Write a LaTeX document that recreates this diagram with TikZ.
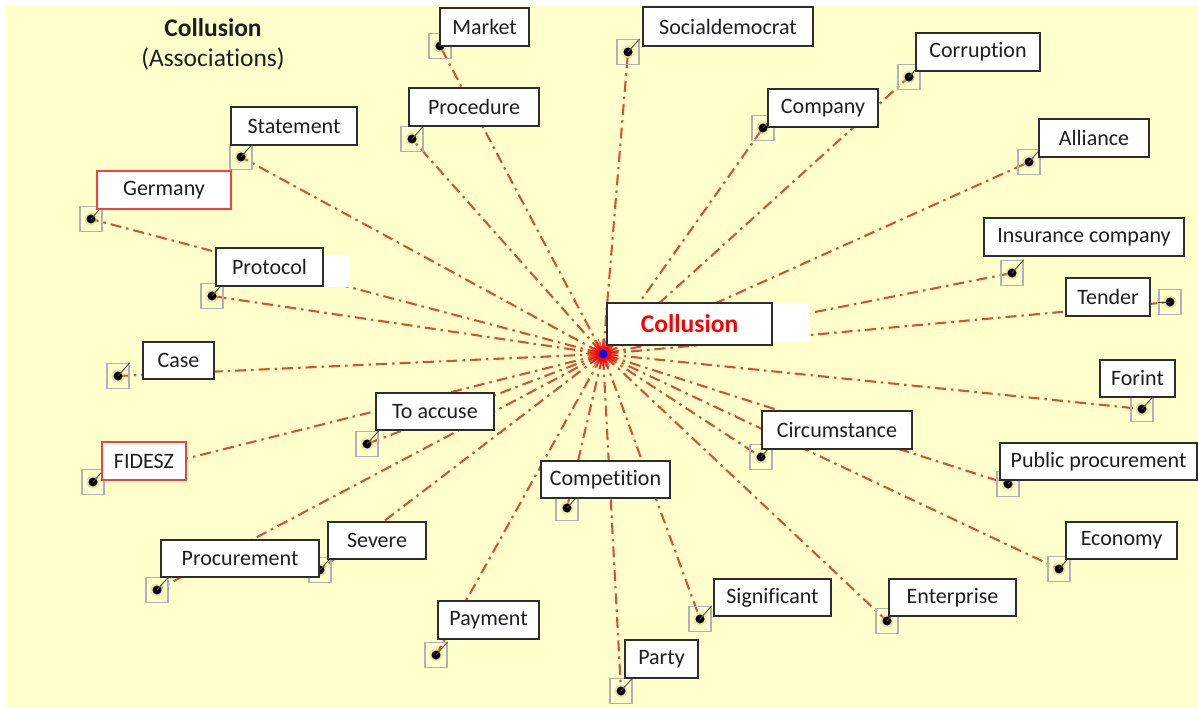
\documentclass[tikz,border=0pt]{standalone}
\usepackage{fontspec}
\setmainfont{Carlito}[Ligatures=NoCommon]

\definecolor{paper}{RGB}{255,255,204}
\definecolor{link}{RGB}{216,80,58}
\definecolor{ink}{RGB}{30,30,30}
\definecolor{frame}{RGB}{45,45,45}
\definecolor{boxgrey}{RGB}{178,178,178}
\definecolor{stem}{RGB}{70,82,55}
\definecolor{halo}{RGB}{225,195,140}
\definecolor{hotframe}{RGB}{255,60,60}

\pgfdeclarelayer{bg}
\pgfdeclarelayer{edges}
\pgfdeclarelayer{front}
\pgfsetlayers{bg,edges,main,front}

\tikzset{
  lbl/.style={draw=frame, line width=1.4pt, fill=white, text=ink, inner sep=0pt,
    font=\fontsize{22}{24}\selectfont},
  hotlbl/.style={lbl, draw=hotframe},
  holder/.style={draw=boxgrey, line width=1.3pt, minimum width=22pt,
    minimum height=25pt, inner sep=0pt},
  pin/.style={circle, fill=black, minimum size=9pt, inner sep=0pt},
  conn/.style={draw=link, line width=2.1pt,
    dash pattern=on 11pt off 5pt on 2.5pt off 5pt},
  stemline/.style={draw=stem, line width=0.9pt},
  bigtext/.style={font=\fontsize{25.5}{28}\selectfont, text=ink, inner sep=0pt},
}

% [box style]{name}{text}{x1}{y1}{x2}{y2}{dot x,y}{stem anchor}
\newcommand\leaf[9][lbl]{%
  \node[holder] (#2s) at (#8) {};
  \fill[halo, opacity=0.45] (#8) circle (6.5);
  \node[pin] (#2d) at (#8) {};
  \draw[stemline] (#2d.center) -- (#2s.#9);
  \begin{pgfonlayer}{front}
    \node[#1, minimum width={(#6-#4)*1pt}, minimum height={(#7-#5)*1pt}]
      (#2) at ({(#4+#6)/2},{(#5+#7)/2}) {#3};
  \end{pgfonlayer}
  \begin{pgfonlayer}{edges}
    \draw[conn] (c) -- (#2d.center);
  \end{pgfonlayer}
}

\begin{document}
\begin{tikzpicture}[x=1pt,y=-1pt]
\useasboundingbox (0,0) rectangle (1198,708);
\begin{pgfonlayer}{bg}
  \fill[paper] (6,5) rectangle (1198,708);
\end{pgfonlayer}

% heading
\node[bigtext, font=\fontsize{25.5}{28}\selectfont\bfseries] (title) at (213,28) {Collusion};
\node[bigtext] (subtitle) at (213,59) {(Associations)};

% hub with its burst
\foreach \i in {0,...,71} {
  \pgfmathsetmacro\rr{7+mod(\i*7,11)}
  \draw[red, line width=0.8pt, opacity=0.7] (603,354) -- ++({\i*5+2}:\rr);
}
\fill[red, opacity=0.35] (603,354) circle (8);
\node[circle, fill=blue, minimum size=9pt, inner sep=0pt] (c) at (603,354) {};

\begin{pgfonlayer}{front}
  \fill[white] (772,303) rectangle (810,342);
  \fill[white] (323,255) rectangle (350,287);
  \node[lbl, minimum width=165pt, minimum height=42pt, text=red,
    font=\fontsize{25.5}{28}\selectfont\bfseries] (hub) at (689.5,324) {Collusion};
\end{pgfonlayer}

% terms
\leaf{market}{Market}{440}{8}{529}{46}{440,46}{north east}
\leaf{socdem}{Socialdemocrat}{643}{7}{813}{46}{628,52}{north east}
\leaf{procedure}{Procedure}{409}{88}{539}{126}{412,139}{north east}
\leaf{statement}{Statement}{231}{107}{357}{145}{241,157}{north east}
\leaf[hotlbl]{germany}{Germany}{97}{171}{231}{209}{91,219}{north east}
\leaf{protocol}{Protocol}{216}{248}{323}{286}{212,296}{north east}
\leaf{case}{Case}{143}{342}{214}{379}{118,376}{north east}
\leaf[hotlbl]{fidesz}{FIDESZ}{102}{442}{186}{480}{93,482}{north east}
\leaf{toaccuse}{To accuse}{376}{393}{494}{430}{367,444}{north east}
\leaf{procurement}{Procurement}{161}{540}{319}{577}{157,590}{north east}
\leaf{severe}{Severe}{328}{522}{426}{559}{320,570}{north east}
\leaf{competition}{Competition}{541}{461}{670}{498}{567,508}{north east}
\leaf{payment}{Payment}{438}{601}{539}{639}{436,655}{north east}
\leaf{party}{Party}{625}{640}{698}{678}{621,691}{north east}
\leaf{significant}{Significant}{714}{579}{831}{616}{700,619}{north east}
\leaf{enterprise}{Enterprise}{889}{579}{1016}{616}{887,621}{north east}
\leaf{economy}{Economy}{1066}{522}{1177}{559}{1059,569}{north east}
\leaf{pubproc}{Public procurement}{1000}{443}{1197}{480}{1008,484}{north east}
\leaf{circumstance}{Circumstance}{762}{411}{912}{449}{761,457}{north east}
\leaf{forint}{Forint}{1100}{360}{1175}{397}{1142,409}{north east}
\leaf{company}{Company}{768}{89}{878}{127}{763,128}{north east}
\leaf{corruption}{Corruption}{916}{33}{1040}{71}{909,77}{north east}
\leaf{alliance}{Alliance}{1039}{119}{1149}{157}{1029,162}{north east}
\leaf{insurance}{Insurance company}{984}{218}{1184}{256}{1012,273}{north east}
\leaf{tender}{Tender}{1066}{278}{1150}{316}{1170,302}{west}
\end{tikzpicture}
\end{document}
